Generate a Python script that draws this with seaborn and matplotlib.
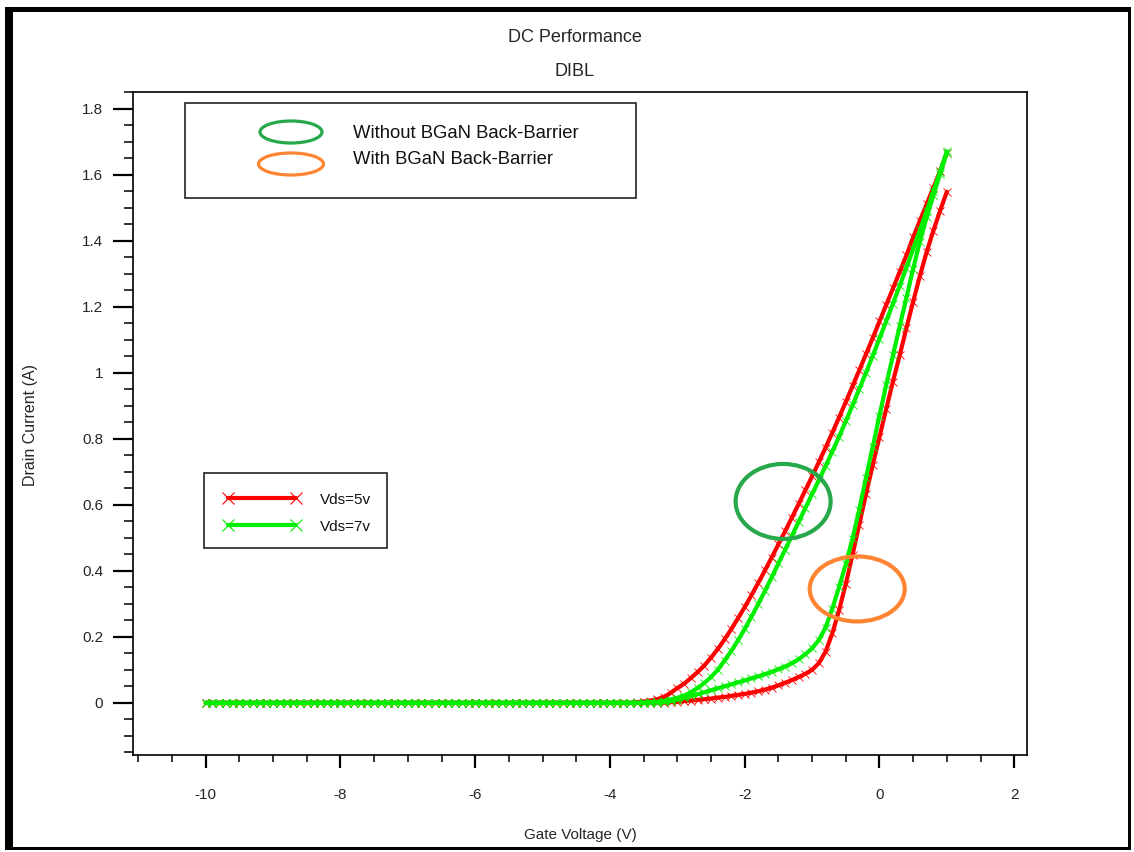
import numpy as np
import pandas as pd
import matplotlib
matplotlib.use("Agg")
import matplotlib.pyplot as plt
import seaborn as sns
from matplotlib.patches import Ellipse, Rectangle
from matplotlib.lines import Line2D
from matplotlib.ticker import MultipleLocator, FuncFormatter

# ---------------- data ----------------
gate_voltage = [
    -10.0, -9.9, -9.8, -9.7, -9.6, -9.5, -9.4, -9.3, -9.2, -9.1,
    -9.0, -8.9, -8.8, -8.7, -8.6, -8.5, -8.4, -8.3, -8.2, -8.1,
    -8.0, -7.9, -7.8, -7.7, -7.6, -7.5, -7.4, -7.3, -7.2, -7.1,
    -7.0, -6.9, -6.8, -6.7, -6.6, -6.5, -6.4, -6.3, -6.2, -6.1,
    -6.0, -5.9, -5.8, -5.7, -5.6, -5.5, -5.4, -5.3, -5.2, -5.1,
    -5.0, -4.9, -4.8, -4.7, -4.6, -4.5, -4.4, -4.3, -4.2, -4.1,
    -4.0, -3.9, -3.8, -3.7, -3.6, -3.5, -3.4, -3.3, -3.2, -3.1,
    -3.0, -2.9, -2.8, -2.7, -2.6, -2.5, -2.4, -2.3, -2.2, -2.1,
    -2.0, -1.9, -1.8, -1.7, -1.6, -1.5, -1.4, -1.3, -1.2, -1.1,
    -1.0, -0.9, -0.8, -0.7, -0.6, -0.5, -0.4, -0.3, -0.2, -0.1,
    0.0, 0.1, 0.2, 0.3, 0.4, 0.5, 0.6, 0.7, 0.8, 0.9, 1.0,
]

# off-state current, Vg = -10.0 ... -3.7 V (64 points)
off_state = [
    0, 0, 0, 0, 0, 0, 0, 0, 0, 0, 0, 0, 0, 0, 0, 0,
    0, 0, 0, 0, 0, 0, 0, 0, 0, 0, 0, 0, 0, 0, 0, 0,
    0, 0, 0, 0, 0, 0, 0, 0, 0, 0, 0, 0, 0, 0, 0, 0,
    0, 0, 0, 0, 0, 0, 0, 0, 0, 0, 0, 0, 0, 0, 0, 0,
]

# Vg = -3.6 ... 1.0 V (47 points)
id_vds5_without_bb = off_state + [
    0.002, 0.004, 0.007, 0.011, 0.018, 0.030, 0.045,
    0.058, 0.075, 0.093, 0.113, 0.137, 0.163, 0.192, 0.223, 0.256, 0.290,
    0.326, 0.363, 0.401, 0.440, 0.480, 0.520, 0.561, 0.602, 0.644, 0.686,
    0.729, 0.773, 0.818, 0.864, 0.911, 0.959, 1.007, 1.056, 1.105, 1.155,
    1.205, 1.255, 1.305, 1.355, 1.410, 1.460, 1.510, 1.560, 1.610, 1.665,
]
id_vds7_without_bb = off_state + [
    0.000, 0.001, 0.002, 0.003, 0.006, 0.010, 0.015,
    0.022, 0.032, 0.045, 0.060, 0.078, 0.100, 0.128, 0.157, 0.189, 0.224,
    0.261, 0.299, 0.339, 0.380, 0.422, 0.464, 0.506, 0.548, 0.590, 0.632,
    0.674, 0.717, 0.761, 0.806, 0.853, 0.901, 0.950, 1.000, 1.051, 1.103,
    1.156, 1.209, 1.263, 1.318, 1.374, 1.431, 1.489, 1.549, 1.609, 1.670,
]
id_vds5_with_bb = off_state + [
    0.000, 0.000, 0.000, 0.001, 0.001, 0.002, 0.003,
    0.005, 0.007, 0.009, 0.011, 0.013, 0.016, 0.018, 0.021, 0.024, 0.027,
    0.031, 0.035, 0.040, 0.046, 0.053, 0.061, 0.069, 0.078, 0.088, 0.100,
    0.120, 0.155, 0.210, 0.280, 0.360, 0.448, 0.540, 0.632, 0.720, 0.805,
    0.890, 0.973, 1.052, 1.135, 1.215, 1.293, 1.365, 1.430, 1.490, 1.548,
]
id_vds7_with_bb = off_state + [
    0.000, 0.000, 0.001, 0.001, 0.002, 0.005, 0.010,
    0.015, 0.020, 0.026, 0.032, 0.038, 0.044, 0.050, 0.056, 0.062, 0.068,
    0.074, 0.080, 0.087, 0.094, 0.102, 0.110, 0.120, 0.132, 0.147, 0.165,
    0.190, 0.228, 0.285, 0.350, 0.420, 0.497, 0.585, 0.682, 0.775, 0.870,
    0.963, 1.052, 1.140, 1.227, 1.315, 1.397, 1.470, 1.537, 1.602, 1.665,
]

series_labels = ["Vds=5v", "Vds=7v"]
device_labels = ["Without BGaN Back-Barrier", "With BGaN Back-Barrier"]
x_tick_values = [-10, -8, -6, -4, -2, 0, 2]
y_tick_values = [0, 0.2, 0.4, 0.6, 0.8, 1, 1.2, 1.4, 1.6, 1.8]

# ---------------- long-form table ----------------
frames = []
for vds, dev, values in [
    (series_labels[0], device_labels[0], id_vds5_without_bb),
    (series_labels[0], device_labels[1], id_vds5_with_bb),
    (series_labels[1], device_labels[0], id_vds7_without_bb),
    (series_labels[1], device_labels[1], id_vds7_with_bb),
]:
    frames.append(pd.DataFrame({"Vg": gate_voltage, "Id": values,
                                "Vds": vds, "device": dev}))
df = pd.concat(frames, ignore_index=True)

# ---------------- styling ----------------
sns.set_theme(style="white")
plt.rcParams["font.family"] = ["Liberation Sans", "DejaVu Sans"]
plt.rcParams["axes.grid"] = False

RED = "#ff0000"
GREEN = "#00ee00"
colors = {series_labels[0]: RED, series_labels[1]: GREEN}
ELL_GREEN = "#27a84a"
ELL_ORANGE = "#ff8533"

fig = plt.figure(figsize=(11.34, 8.52), dpi=100)
fig.patch.set_facecolor("white")
ax = fig.add_axes([133 / 1134, 1 - 755 / 852, 894 / 1134, 663 / 852])
ax.set_facecolor("white")

for vds in series_labels:
    for dev in device_labels:
        sub = df[(df["Vds"] == vds) & (df["device"] == dev)]
        sns.lineplot(data=sub, x="Vg", y="Id", ax=ax, color=colors[vds],
                     lw=3.0, marker="x", markersize=6, markeredgewidth=0.6,
                     markeredgecolor=colors[vds], legend=False,
                     estimator=None, sort=False, zorder=3)

# highlight ellipses
ax.add_patch(Ellipse((-1.43, 0.61), 1.41, 0.227, fill=False,
                     edgecolor=ELL_GREEN, lw=3, zorder=4))
ax.add_patch(Ellipse((-0.33, 0.345), 1.41, 0.197, fill=False,
                     edgecolor=ELL_ORANGE, lw=3, zorder=4))

ax.set_xlim(-11.08, 2.19)
ax.set_ylim(-0.158, 1.85)
ax.set_xticks(x_tick_values)
ax.set_yticks(y_tick_values)
ax.xaxis.set_minor_locator(MultipleLocator(0.5))
ax.yaxis.set_minor_locator(MultipleLocator(0.05))
ax.yaxis.set_major_formatter(FuncFormatter(lambda v, p: f"{v:g}"))
ax.xaxis.set_major_formatter(FuncFormatter(lambda v, p: f"{v:g}"))
ax.tick_params(axis="y", which="major", direction="out", length=14.5,
               width=1.6, color="black", labelsize=11, pad=7, left=True)
ax.tick_params(axis="y", which="minor", direction="out", length=6.5,
               width=1.1, color="black", left=True)
ax.tick_params(axis="x", which="major", direction="out", length=9,
               width=1.6, color="black", labelsize=11, pad=15, bottom=True)
ax.tick_params(axis="x", which="minor", direction="out", length=5,
               width=1.1, color="black", bottom=True)
for s in ax.spines.values():
    s.set_color("black")
    s.set_linewidth(1.2)
ax.set_xlabel("")
ax.set_ylabel("")

# titles and axis labels
fig.text(575 / 1134, 1 - 37 / 852, "DC Performance", ha="center",
         va="center", fontsize=13)
fig.text(575 / 1134, 1 - 72 / 852, "DIBL", ha="center", va="center",
         fontsize=13)
fig.text(30 / 1134, 1 - 425 / 852, "Drain Current (A)", rotation=90,
         ha="center", va="center", fontsize=11.5)
fig.text(580 / 1134, 1 - 835 / 852, "Gate Voltage (V)", ha="center",
         va="center", fontsize=11)

# legend 1 (devices)
def fx(px):
    return (px - 133) / 894


def fy(py):
    return (755 - py) / 663


ax.add_patch(Rectangle((fx(185), fy(198)), fx(636) - fx(185),
                       fy(103) - fy(198), transform=ax.transAxes,
                       facecolor="white", edgecolor="#222222", lw=1.2,
                       zorder=5))
ax.add_patch(Ellipse((fx(291), fy(132)), 62 / 894, 22 / 663,
                     transform=ax.transAxes, fill=False,
                     edgecolor=ELL_GREEN, lw=2.3, zorder=6))
ax.add_patch(Ellipse((fx(291), fy(164)), 65 / 894, 22 / 663,
                     transform=ax.transAxes, fill=False,
                     edgecolor=ELL_ORANGE, lw=2.3, zorder=6))
ax.text(fx(353), fy(133), device_labels[0], transform=ax.transAxes,
        ha="left", va="center", fontsize=13.3, color="#111111", zorder=6)
ax.text(fx(353), fy(160), device_labels[1], transform=ax.transAxes,
        ha="left", va="center", fontsize=13.3, color="#111111", zorder=6)

# legend 2 (Vds)
ax.add_patch(Rectangle((fx(204), fy(548)), fx(387) - fx(204),
                       fy(473) - fy(548), transform=ax.transAxes,
                       facecolor="white", edgecolor="#222222", lw=1.2,
                       zorder=5))
for py, lab in [(498, series_labels[0]), (525, series_labels[1])]:
    c = colors[lab]
    ax.add_line(Line2D([fx(228), fx(296)], [fy(py), fy(py)],
                       transform=ax.transAxes, color=c, lw=3.0,
                       marker="x", markersize=9, markeredgewidth=0.8,
                       markeredgecolor=c, zorder=6))
    ax.text(fx(320), fy(py + 2), lab, transform=ax.transAxes, ha="left",
            va="center", fontsize=11, color="#111111", zorder=6)

# screenshot frame
W, H = 1134, 852
for (x0, y0, w, h) in [(5, 7, 8, 843), (5, 7, 1126, 5),
                       (1128, 7, 3, 843), (5, 847, 1126, 3)]:
    fig.add_artist(Rectangle((x0 / W, 1 - (y0 + h) / H), w / W, h / H,
                             transform=fig.transFigure, facecolor="black",
                             edgecolor="none"))

fig.savefig("out.png", dpi=100)
